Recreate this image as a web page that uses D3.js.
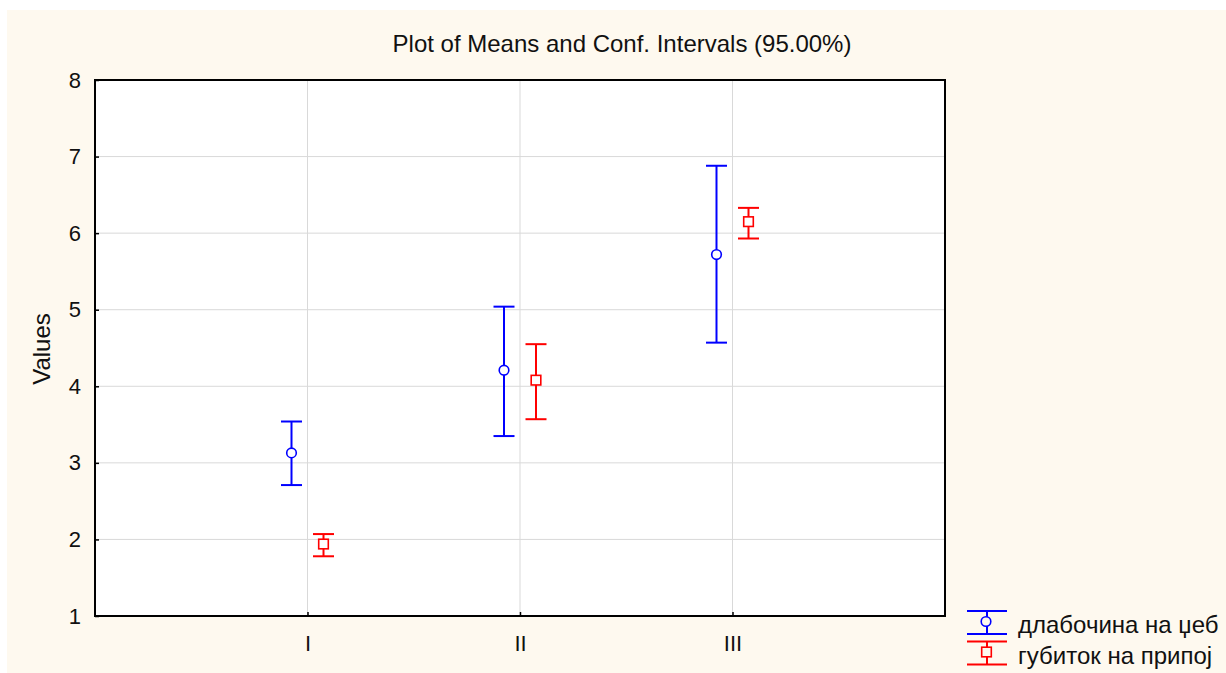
<!DOCTYPE html>
<html>
<head>
<meta charset="utf-8">
<script src="https://cdn.jsdelivr.net/npm/d3@7"></script>
<style>
  html, body { margin: 0; padding: 0; background: #ffffff; }
  svg { display: block; }
  text { font-family: "Liberation Sans", Arial, sans-serif; fill: #111; }
</style>
</head>
<body>
<svg id="chart" width="1226" height="673"></svg>
<script>
// Groups on the x axis
const groups = ["I", "II", "III"];
// Series names
const seriesNames = ["длабочина на џеб", "губиток на припој"];
// Means and 95% confidence limits per group
const depthMean = [3.13, 4.21, 5.72];
const depthLow  = [2.71, 3.35, 4.57];
const depthHigh = [3.54, 5.04, 6.88];
const lossMean  = [1.94, 4.08, 6.15];
const lossLow   = [1.78, 3.57, 5.93];
const lossHigh  = [2.07, 4.55, 6.33];
const yTicks = [1, 2, 3, 4, 5, 6, 7, 8];

const series = [
  { name: seriesNames[0], mean: depthMean, low: depthLow, high: depthHigh, color: "#0000ff", shape: "circle", offset: -16 },
  { name: seriesNames[1], mean: lossMean, low: lossLow, high: lossHigh, color: "#ff0000", shape: "square", offset: 16 }
];

const FONT = "Liberation Sans, Arial, sans-serif";
const svg = d3.select("#chart");

// cream page background
svg.append("rect").attr("x", 7).attr("y", 10).attr("width", 1219).attr("height", 663).attr("fill", "#fef9ef");

const plotL = 95, plotR = 945, plotT = 80, plotB = 616;

// x: group positions at 1..3 inside a 0..4 domain
const x = d3.scaleLinear().domain([0, groups.length + 1]).range([plotL, plotR]);
const y = d3.scaleLinear().domain([1, 8]).range([plotB, plotT]);

// plot area
svg.append("rect").attr("x", plotL).attr("y", plotT).attr("width", plotR - plotL).attr("height", plotB - plotT).attr("fill", "#ffffff");

// grid
const grid = svg.append("g");
grid.selectAll("line.h").data(yTicks.slice(1, -1)).join("line")
  .attr("class", "h")
  .attr("x1", plotL).attr("x2", plotR)
  .attr("y1", d => y(d)).attr("y2", d => y(d))
  .attr("stroke", "#d9d9d9").attr("stroke-width", 1);
grid.selectAll("line.v").data(groups).join("line")
  .attr("class", "v")
  .attr("x1", (d, i) => x(i + 1)).attr("x2", (d, i) => x(i + 1))
  .attr("y1", plotT).attr("y2", plotB)
  .attr("stroke", "#d9d9d9").attr("stroke-width", 1);

// y axis with inward ticks
const yAxis = d3.axisLeft(y).tickValues(yTicks).tickSize(-4).tickPadding(14).tickFormat(d3.format("d"));
const gy = svg.append("g").attr("transform", `translate(${plotL},0)`).call(yAxis);
gy.select(".domain").remove();
gy.selectAll(".tick line").attr("stroke", "#000").attr("stroke-width", 1.5);
gy.selectAll(".tick text").attr("font-size", 22).attr("font-family", FONT).attr("fill", "#111");

// x axis with inward ticks
const xAxis = d3.axisBottom(x).tickValues(groups.map((g, i) => i + 1)).tickSize(-4).tickPadding(19)
  .tickFormat(d => groups[d - 1]);
const gx = svg.append("g").attr("transform", `translate(0,${plotB})`).call(xAxis);
gx.select(".domain").remove();
gx.selectAll(".tick line").attr("stroke", "#000").attr("stroke-width", 1.5);
gx.selectAll(".tick text").attr("font-size", 22).attr("font-family", FONT).attr("fill", "#111");

// frame
svg.append("rect").attr("x", plotL).attr("y", plotT).attr("width", plotR - plotL).attr("height", plotB - plotT)
  .attr("fill", "none").attr("stroke", "#000").attr("stroke-width", 2);

// error bars and means
const capHalf = 10.5;
function drawMarker(g, shape, cx, cy, color) {
  if (shape === "circle") {
    g.append("circle").attr("cx", cx).attr("cy", cy).attr("r", 4.8)
      .attr("fill", "none").attr("stroke", color).attr("stroke-width", 1.6);
  } else {
    g.append("rect").attr("x", cx - 4.8).attr("y", cy - 4.8).attr("width", 9.6).attr("height", 9.6)
      .attr("fill", "none").attr("stroke", color).attr("stroke-width", 1.6);
  }
}

series.forEach(s => {
  const g = svg.append("g");
  groups.forEach((grp, i) => {
    const cx = x(i + 1) + s.offset;
    g.append("line").attr("x1", cx).attr("x2", cx).attr("y1", y(s.high[i])).attr("y2", y(s.mean[i]) - 4.8)
      .attr("stroke", s.color).attr("stroke-width", 2);
    g.append("line").attr("x1", cx).attr("x2", cx).attr("y1", y(s.mean[i]) + 4.8).attr("y2", y(s.low[i]))
      .attr("stroke", s.color).attr("stroke-width", 2);
    [s.high[i], s.low[i]].forEach(v => {
      g.append("line").attr("x1", cx - capHalf).attr("x2", cx + capHalf).attr("y1", y(v)).attr("y2", y(v))
        .attr("stroke", s.color).attr("stroke-width", 2);
    });
    drawMarker(g, s.shape, cx, y(s.mean[i]), s.color);
  });
});

// title
svg.append("text").attr("x", 622).attr("y", 52).attr("text-anchor", "middle")
  .attr("font-size", 24).attr("font-family", FONT).text("Plot of Means and Conf. Intervals (95.00%)");

// y label
svg.append("text").attr("transform", "translate(50,349) rotate(-90)").attr("text-anchor", "middle")
  .attr("font-size", 24).attr("font-family", FONT).text("Values");

// legend
const legend = svg.append("g");
series.forEach((s, i) => {
  const cy = 622.5 + i * 30.5;
  const lg = legend.append("g");
  const cx = 987;
  lg.append("line").attr("x1", 967).attr("x2", 1007).attr("y1", cy - 11.5).attr("y2", cy - 11.5).attr("stroke", s.color).attr("stroke-width", 2);
  lg.append("line").attr("x1", 967).attr("x2", 1007).attr("y1", cy + 11.5).attr("y2", cy + 11.5).attr("stroke", s.color).attr("stroke-width", 2);
  lg.append("line").attr("x1", cx).attr("x2", cx).attr("y1", cy - 11.5).attr("y2", cy + 11.5).attr("stroke", s.color).attr("stroke-width", 2);
  if (s.shape === "circle") {
    lg.append("circle").attr("cx", cx - 1).attr("cy", cy - 1).attr("r", 4.8).attr("fill", "#fef9ef").attr("stroke", s.color).attr("stroke-width", 1.6);
  } else {
    lg.append("rect").attr("x", cx - 5.3).attr("y", cy - 5.8).attr("width", 9.6).attr("height", 9.6).attr("fill", "#fef9ef").attr("stroke", s.color).attr("stroke-width", 1.6);
  }
  lg.append("text").attr("x", 1018).attr("y", cy + 10.5).attr("font-size", 24).attr("font-family", FONT).text(s.name);
});
</script>
</body>
</html>
